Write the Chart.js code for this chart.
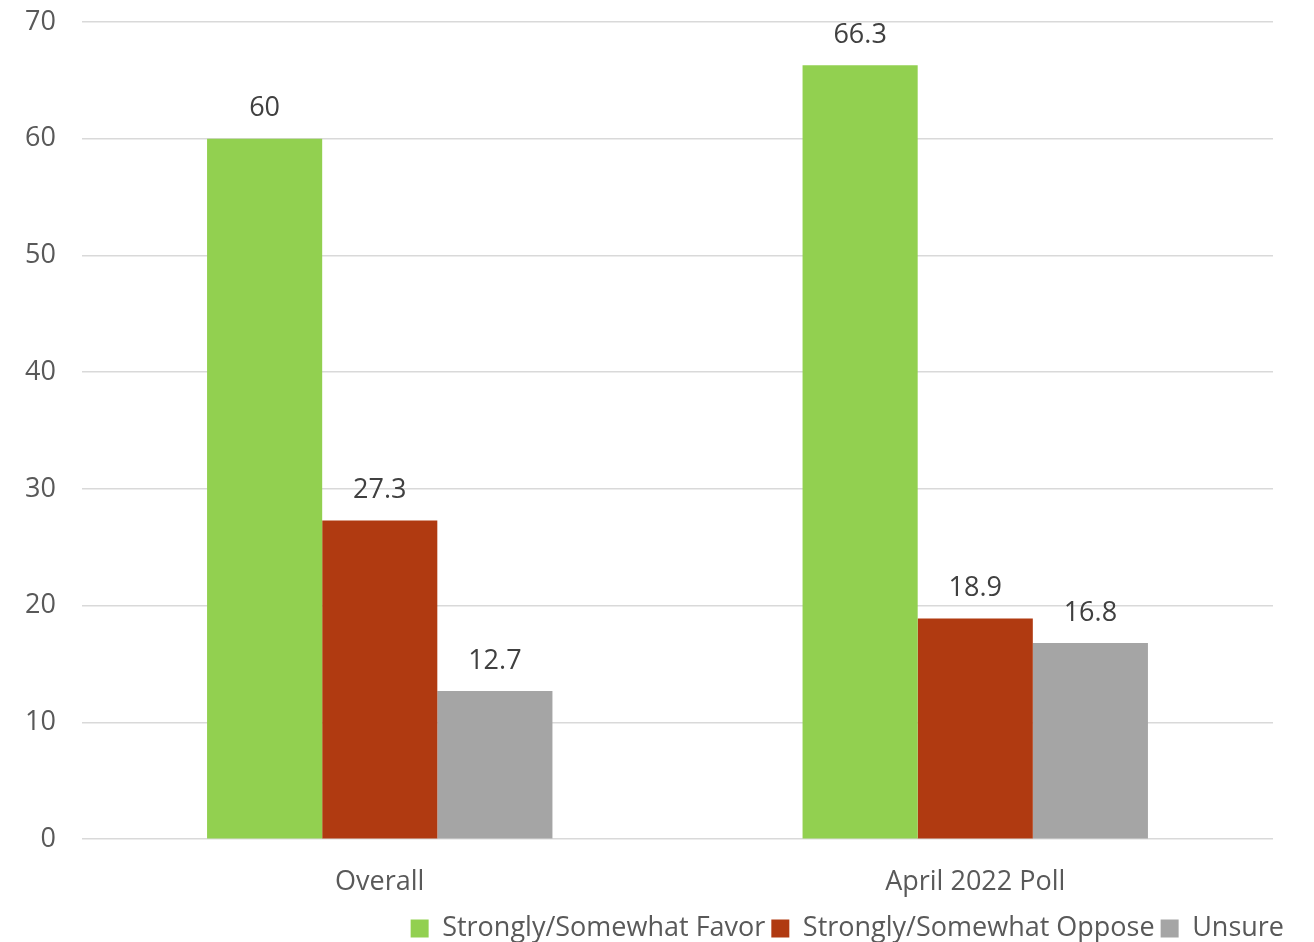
<!DOCTYPE html>
<html>
<head>
<meta charset="utf-8">
<script src="https://cdn.jsdelivr.net/npm/chart.js@4"></script>
<style>
  html, body { margin: 0; padding: 0; background: #fff; }
  #wrap { width: 1314px; height: 942px; }
</style>
</head>
<body>
<div id="wrap"><canvas id="pollChart"></canvas></div>
<script>
const categories = ["Overall", "April 2022 Poll"];
const favor = [60, 66.3];
const oppose = [27.3, 18.9];
const unsure = [12.7, 16.8];
const yTicks = [0, 10, 20, 30, 40, 50, 60, 70];

const textColor = "#595959";
const fontFamily = "'Open Sans'";

// value labels above each bar
const barLabels = {
    id: "barLabels",
    afterDatasetsDraw(chart) {
        const ctx = chart.ctx;
        ctx.save();
        ctx.font = "27px " + fontFamily;
        ctx.fillStyle = "#404040";
        ctx.textAlign = "center";
        ctx.textBaseline = "middle";
        chart.data.datasets.forEach((ds, i) => {
            chart.getDatasetMeta(i).data.forEach((bar, j) => {
                ctx.fillText(String(ds.data[j]), bar.x, bar.y - 30);
            });
        });
        ctx.restore();
    }
};

// keep vertical axes from reserving room for their end labels
function noEndPadding(axis) {
    axis.paddingTop = 0;
    axis.paddingBottom = 0;
}

new Chart(document.getElementById("pollChart"), {
    type: "bar",
    data: {
        labels: categories,
        datasets: [
            { label: "Strongly/Somewhat Favor", data: favor, backgroundColor: "#92D050" },
            { label: "Strongly/Somewhat Oppose", data: oppose, backgroundColor: "#B03A11" },
            { label: "Unsure", data: unsure, backgroundColor: "#A5A5A5" }
        ]
    },
    options: {
        responsive: true,
        maintainAspectRatio: false,
        animation: false,
        layout: { padding: { left: 22, right: 24, top: 22, bottom: -10 } },
        datasets: { bar: { barPercentage: 1, categoryPercentage: 0.58 } },
        scales: {
            x: {
                grid: { display: false },
                border: { display: false },
                ticks: { color: textColor, font: { family: "Open Sans", size: 27, lineHeight: 0.4 }, padding: 30 },
                afterFit(axis) { axis.height -= 9; }
            },
            y: {
                min: 0,
                max: 70,
                afterBuildTicks(axis) { axis.ticks = yTicks.map(v => ({ value: v })); },
                afterFit(axis) { axis.width = 60; noEndPadding(axis); },
                grid: { color: "#d9d9d9", lineWidth: 1.5, drawTicks: false },
                border: { display: false },
                ticks: { color: textColor, font: { family: "Open Sans", size: 27 }, padding: 26 }
            },
            // empty strip on the right so the legend can reach past the plot
            yRight: {
                position: "right",
                display: true,
                grid: { display: false },
                border: { display: false },
                ticks: { display: false },
                afterFit(axis) { axis.width = 17; noEndPadding(axis); }
            }
        },
        plugins: {
            legend: {
                position: "bottom",
                align: "end",
                labels: {
                    color: textColor,
                    font: { family: "Open Sans", size: 27 },
                    boxWidth: 18,
                    boxHeight: 18,
                    padding: 6
                }
            },
            tooltip: { enabled: false }
        }
    },
    plugins: [barLabels]
});
</script>
</body>
</html>
